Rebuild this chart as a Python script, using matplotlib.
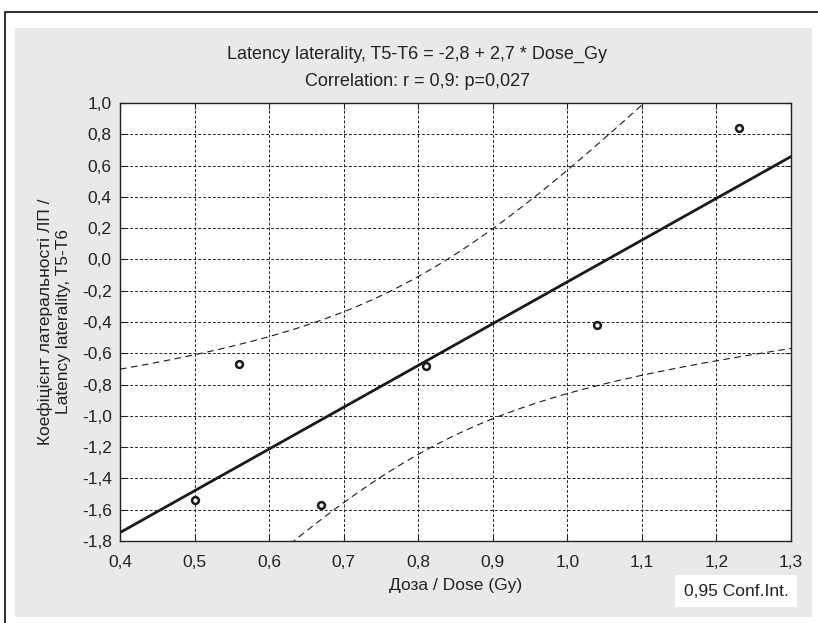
import numpy as np
import matplotlib
matplotlib.use("Agg")
import matplotlib.pyplot as plt
from matplotlib.patches import Rectangle
from matplotlib.lines import Line2D

plt.rcParams['font.family'] = ['Liberation Sans', 'DejaVu Sans']

# dose (Gy) and latency laterality T5-T6
dose = np.array([0.50, 0.56, 0.67, 0.81, 1.04, 1.23])
laterality = np.array([-1.54, -0.67, -1.57, -0.68, -0.42, 0.84])

x_ticks = [0.4, 0.5, 0.6, 0.7, 0.8, 0.9, 1.0, 1.1, 1.2, 1.3]
y_ticks = [1.0, 0.8, 0.6, 0.4, 0.2, 0.0, -0.2, -0.4, -0.6, -0.8, -1.0, -1.2, -1.4, -1.6, -1.8]

title1 = "Latency laterality, T5-T6 = -2,8 + 2,7 * Dose_Gy"
title2 = "Correlation: r = 0,9: p=0,027"
ylabel = "Коефіцієнт латеральності ЛП /\nLatency laterality, T5-T6"
xlabel = "Доза / Dose (Gy)"
ci_label = "0,95 Conf.Int."

# linear fit and 95% confidence band
n = len(dose)
slope, intercept = np.polyfit(dose, laterality, 1)
resid = laterality - (intercept + slope * dose)
s = np.sqrt(np.sum(resid ** 2) / (n - 2))
sxx = np.sum((dose - dose.mean()) ** 2)
t_crit = 2.776  # t(0.975, df=4)
xs = np.linspace(0.4, 1.3, 200)
fit = intercept + slope * xs
half = t_crit * s * np.sqrt(1.0 / n + (xs - dose.mean()) ** 2 / sxx)

W, H = 818, 623
fs = 12.5
ink = '#222222'
fig = plt.figure(figsize=(W / 100, H / 100), dpi=100)
fig.patch.set_facecolor('white')

# frame and gray panel
fig.patches.append(Rectangle((15 / W, 1 - 617 / H), 797 / W, 589 / H,
                             transform=fig.transFigure, facecolor='#e8e9eb',
                             edgecolor='none', zorder=-10))
fig.lines.append(Line2D([5 / W, 5 / W, 1.0], [0.0, 1 - 12 / H, 1 - 12 / H],
                        transform=fig.transFigure, color='#333333', lw=1.5,
                        zorder=-10))

ax = fig.add_axes([120 / W, 1 - 541 / H, 671 / W, 438 / H])
ax.set_zorder(5)
ax.set_facecolor('white')

ax.plot(xs, fit, color='#1a1a1a', lw=2.0, zorder=3)
ax.plot(xs, fit + half, color='#1a1a1a', lw=0.8, ls=(0, (6, 4)), zorder=3)
ax.plot(xs, fit - half, color='#1a1a1a', lw=0.8, ls=(0, (6, 4)), zorder=3)
ax.scatter(dose, laterality, s=24, facecolors='white', edgecolors='#1a1a1a',
           linewidths=1.8, zorder=4)

ax.set_xlim(0.4, 1.3)
ax.set_ylim(-1.8, 1.0)
ax.set_xticks(x_ticks)
ax.set_yticks(y_ticks)
ax.set_xticklabels([f"{v:.1f}".replace('.', ',') for v in x_ticks])
ax.set_yticklabels([f"{v:.1f}".replace('.', ',').replace('-0,0', '0,0') for v in y_ticks])
ax.grid(True, color=ink, lw=0.7, ls=(0, (3, 2)))
ax.tick_params(direction='in', length=4, width=0.8, labelsize=fs,
               top=True, right=True, colors=ink)
ax.tick_params(axis='x', pad=10)
ax.tick_params(axis='y', pad=6)
for sp in ax.spines.values():
    sp.set_color(ink)
    sp.set_linewidth(1.0)

ax.set_xlabel(xlabel, fontsize=fs, labelpad=6, color=ink)
ax.set_ylabel(ylabel, fontsize=fs, labelpad=8, color=ink)

fig.text(417 / W, 1 - 54 / H, title1, ha='center', va='center', fontsize=13, color=ink)
fig.text(417 / W, 1 - 81 / H, title2, ha='center', va='center', fontsize=13, color=ink)

fig.text(736 / W, 1 - 591 / H, ci_label, ha='center', va='center', fontsize=fs,
         color=ink,
         bbox=dict(boxstyle='square,pad=0.5', facecolor='white', edgecolor='none'))

fig.savefig("out.png", dpi=100)
